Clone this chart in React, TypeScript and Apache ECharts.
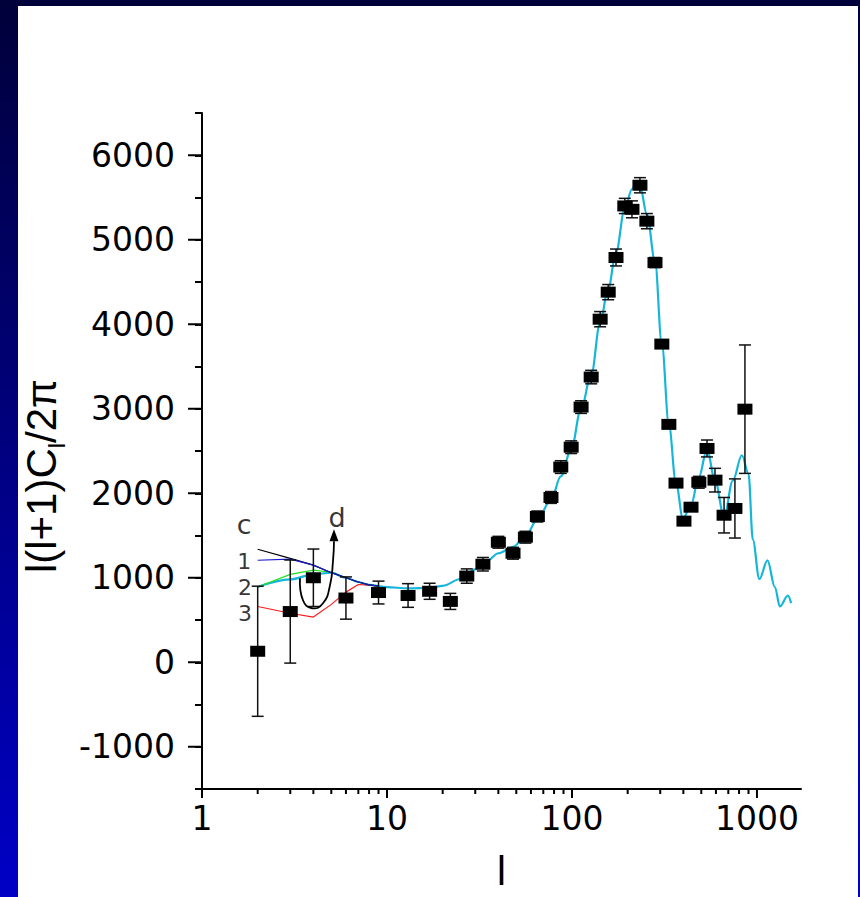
import React, { useEffect, useRef } from "react";
import * as echarts from "echarts";

// ---- measured data (multipole l, l(l+1)C_l/2pi, error) ----
const ells = [2, 3, 4, 6, 9, 13, 17, 22, 27, 33, 40, 48, 56, 65, 77, 87, 99, 112, 127, 142, 157, 173, 193, 211, 233, 254, 281, 306, 334, 365, 403, 440, 485, 537, 593, 664, 760, 861];
const values = [130, 600, 1000, 760, 825, 790, 840, 720, 1020, 1160, 1420, 1290, 1480, 1725, 1950, 2310, 2545, 3020, 3375, 4060, 4380, 4790, 5400, 5360, 5645, 5220, 4730, 3765, 2815, 2120, 1670, 1835, 2130, 2530, 2155, 1740, 1820, 2995];
const errors = [770, 610, 340, 250, 135, 140, 95, 95, 85, 80, 70, 70, 70, 65, 70, 75, 75, 75, 80, 90, 90, 100, 90, 100, 90, 90, 60, 40, 40, 40, 40, 40, 70, 100, 140, 210, 350, 760];

// ---- theory curve (cyan) ----
const curveL = [2, 3, 4, 5, 6, 7, 8, 10, 13, 17, 20, 25, 30, 35, 40, 48, 56, 65, 77, 87, 99, 112, 127, 142, 157, 173, 193, 211, 222, 233, 254, 281, 306, 334, 365, 398, 440, 485, 537, 593, 665, 740, 829, 900, 950, 1030, 1140, 1250, 1330, 1470, 1530];
const curveV = [890, 980, 1040, 1060, 1000, 950, 915, 888, 875, 880, 905, 985, 1100, 1205, 1290, 1365, 1490, 1690, 1920, 2200, 2520, 3000, 3400, 4020, 4420, 4850, 5370, 5600, 5670, 5640, 5300, 4750, 3765, 2815, 2120, 1700, 1860, 2190, 2520, 2150, 1720, 2150, 2450, 2230, 1450, 985, 1205, 890, 660, 790, 700];

// ---- low-l model variants ----
const lowL = [2, 3, 4, 5, 6, 7, 8, 9];
const modelC = [1337, 1230, 1150, 1060, 1000, 950, 915, 900];
const model1 = [1207, 1220, 1150, 1060, 1000, 950, 915, 900];
const model2 = [890, 1040, 1090, 1065, 1000, 950, 915, 900];
const model3 = [660, 580, 535, 685, 830, 920, 912, 900];

// ---- axes ----
const X_MIN = 1;
const X_MAX = 1730;
const Y_MIN = -1500;
const Y_MAX = 6500;
const xTickLabels = ["1", "10", "100", "1000"];
const xMajorTicks = [1, 10, 100, 1000];
const xMinorTicks = [2, 3, 4, 5, 6, 7, 8, 9, 20, 30, 40, 50, 60, 70, 80, 90, 200, 300, 400, 500, 600, 700, 800, 900];
const yMajorTicks = [-1000, 0, 1000, 2000, 3000, 4000, 5000, 6000];

// ---- annotations (data space anchors) ----
const annoNames = ["c", "1", "2", "3", "d"];
const annoL = [1.69, 1.69, 1.71, 1.71, 5.37];
const annoV = [1625, 1195, 888, 578, 1710];
const annoBig = [true, false, false, false, true];
const arrowL = [3.386, 3.515, 3.93, 4.51, 4.92, 5.11, 5.17];
const arrowV = [994, 734, 639, 698, 911, 1207, 1432];
const arrowTip = [5.17, 1575];

const FONT = "'DejaVu Sans', 'Liberation Sans', Arial, sans-serif";
const ARIAL = "'Liberation Sans', Arial, sans-serif";

export default function App() {
  const ref = useRef<HTMLDivElement>(null);

  useEffect(() => {
    if (!ref.current) return;
    const chart = echarts.init(ref.current, null, { renderer: "svg" });

    const pts = ells.map((l, i) => [l, values[i]]);
    const bars = ells.map((l, i) => [l, values[i] - errors[i], values[i] + errors[i]]);
    const curve = curveL.map((l, i) => [l, curveV[i]]);
    const mk = (arr: number[]) => lowL.map((l, i) => [l, arr[i]]);

    const stripeGrad = new echarts.graphic.LinearGradient(0, 0, 0, 1, [
      { offset: 0, color: "#00003a" },
      { offset: 1, color: "#0000c6" },
    ]);

    const option: any = {
      animation: false,
      backgroundColor: "#ffffff",
      graphic: [
        { type: "rect", left: 0, top: 0, shape: { width: 18, height: 897 }, style: { fill: stripeGrad } },
        { type: "rect", left: 0, top: 0, shape: { width: 860, height: 6 }, style: { fill: "#00003a" } },
        { type: "rect", right: 0, top: 0, shape: { width: 2, height: 897 }, style: { fill: stripeGrad } },
      ],
      grid: { left: 202, right: 59, top: 113, bottom: 108, containLabel: false },
      xAxis: {
        type: "log",
        logBase: 10,
        min: X_MIN,
        max: X_MAX,
        axisLine: { show: true, onZero: false, lineStyle: { color: "#000", width: 2 } },
        axisTick: { show: false },
        splitLine: { show: false },
        minorTick: { show: false },
        axisLabel: {
          color: "#000",
          fontSize: 33,
          fontFamily: FONT,
          margin: 13,
          showMaxLabel: false,
          formatter: (v: number) => {
            const s = String(Math.round(v));
            return xTickLabels.indexOf(s) >= 0 ? s : "";
          },
        },
        name: "l",
        nameLocation: "middle",
        nameGap: 62,
        nameTextStyle: { color: "#000", fontSize: 40, fontFamily: ARIAL },
      },
      yAxis: {
        type: "value",
        min: Y_MIN,
        max: Y_MAX,
        interval: 500,
        axisLine: { show: true, onZero: false, lineStyle: { color: "#000", width: 2 } },
        axisTick: { show: true, length: 7, lineStyle: { color: "#000", width: 2 } },
        splitLine: { show: false },
        axisLabel: {
          color: "#000",
          fontSize: 33,
          fontFamily: FONT,
          margin: 27,
          formatter: (v: number) => (yMajorTicks.indexOf(v) >= 0 ? String(v) : ""),
        },
        name: "l(l+1)C{sub|l}/2π",
        nameLocation: "middle",
        nameRotate: 90,
        nameGap: 128,
        nameTextStyle: {
          color: "#000",
          fontSize: 42,
          lineHeight: 54,
          fontFamily: ARIAL,
          padding: [0, 50, 0, 0],
          rich: {
            sub: { fontSize: 24, lineHeight: 24, verticalAlign: "bottom", fontFamily: ARIAL, color: "#000" },
          },
        },
      },
      series: [
        // x-axis ticks (major + minor at 2..9 per decade)
        {
          type: "custom",
          silent: true,
          clip: false,
          data: xMajorTicks.map((v) => [v, Y_MIN, 9]).concat(xMinorTicks.map((v) => [v, Y_MIN, 5])),
          renderItem: (params: any, api: any) => {
            const p = api.coord([api.value(0), api.value(1)]);
            const len = api.value(2);
            return { type: "line", shape: { x1: p[0], y1: p[1], x2: p[0], y2: p[1] + len }, style: { stroke: "#000", lineWidth: 2 } };
          },
        },
        // y-axis major ticks
        {
          type: "custom",
          silent: true,
          clip: false,
          data: yMajorTicks.map((v) => [X_MIN, v]),
          renderItem: (params: any, api: any) => {
            const p = api.coord([api.value(0), api.value(1)]);
            return { type: "line", shape: { x1: p[0] - 14, y1: p[1], x2: p[0], y2: p[1] }, style: { stroke: "#000", lineWidth: 2 } };
          },
        },
        {
          name: "theory",
          type: "line",
          data: curve,
          showSymbol: false,
          smooth: 0.35,
          smoothMonotone: "x",
          lineStyle: { color: "#16b6da", width: 2.2 },
          z: 2,
        },
        { type: "line", data: mk(model3), showSymbol: false, lineStyle: { color: "#ff1a1a", width: 1.2 }, z: 2 },
        { type: "line", data: mk(model2), showSymbol: false, lineStyle: { color: "#22e022", width: 1.2 }, z: 2 },
        { type: "line", data: mk(modelC), showSymbol: false, lineStyle: { color: "#000000", width: 1.2 }, z: 2 },
        { type: "line", data: mk(model1), showSymbol: false, lineStyle: { color: "#1a1acc", width: 1.2 }, z: 2 },
        // error bars
        {
          type: "custom",
          silent: true,
          z: 3,
          data: bars,
          encode: { x: 0, y: [1, 2] },
          renderItem: (params: any, api: any) => {
            const x = api.value(0);
            const lo = api.coord([x, api.value(1)]);
            const hi = api.coord([x, api.value(2)]);
            const hw = 6;
            const st = { stroke: "#111", lineWidth: 1.5 };
            return {
              type: "group",
              children: [
                { type: "line", shape: { x1: hi[0], y1: hi[1], x2: lo[0], y2: lo[1] }, style: st },
                { type: "line", shape: { x1: hi[0] - hw, y1: hi[1], x2: hi[0] + hw, y2: hi[1] }, style: st },
                { type: "line", shape: { x1: lo[0] - hw, y1: lo[1], x2: lo[0] + hw, y2: lo[1] }, style: st },
              ],
            };
          },
        },
        // data points
        {
          name: "data",
          type: "scatter",
          data: pts,
          symbol: "rect",
          symbolSize: [15, 11],
          itemStyle: { color: "#000", opacity: 1 },
          z: 4,
        },
        // arrow "d"
        {
          type: "custom",
          silent: true,
          z: 5,
          clip: false,
          data: [arrowTip],
          renderItem: (params: any, api: any) => {
            const points = arrowL.map((l, i) => api.coord([l, arrowV[i]]));
            const tip = api.coord([api.value(0), api.value(1)]);
            return {
              type: "group",
              children: [
                { type: "polyline", shape: { points, smooth: 0.5 }, style: { stroke: "#000", lineWidth: 1.8, fill: null } },
                {
                  type: "polygon",
                  shape: { points: [[tip[0], tip[1]], [tip[0] - 4.5, tip[1] + 12], [tip[0] + 4.5, tip[1] + 12]] },
                  style: { fill: "#000" },
                },
              ],
            };
          },
        },
        // text labels c, 1, 2, 3, d
        {
          type: "scatter",
          silent: true,
          z: 6,
          symbol: "circle",
          symbolSize: 1,
          itemStyle: { color: "rgba(0,0,0,0)" },
          data: annoNames.map((n, i) => ({
            name: n,
            value: [annoL[i], annoV[i]],
            label: annoBig[i] ? { fontSize: 27, lineHeight: 27 } : undefined,
          })),
          label: {
            show: true,
            position: "inside",
            formatter: "{b}",
            color: "#000",
            fontSize: 22,
            lineHeight: 22,
            fontFamily: FONT,
          },
        },
      ],
    };

    chart.setOption(option);
    return () => chart.dispose();
  }, []);

  return <div ref={ref} style={{ position: "absolute", left: 0, top: 0, width: 860, height: 897 }} />;
}
